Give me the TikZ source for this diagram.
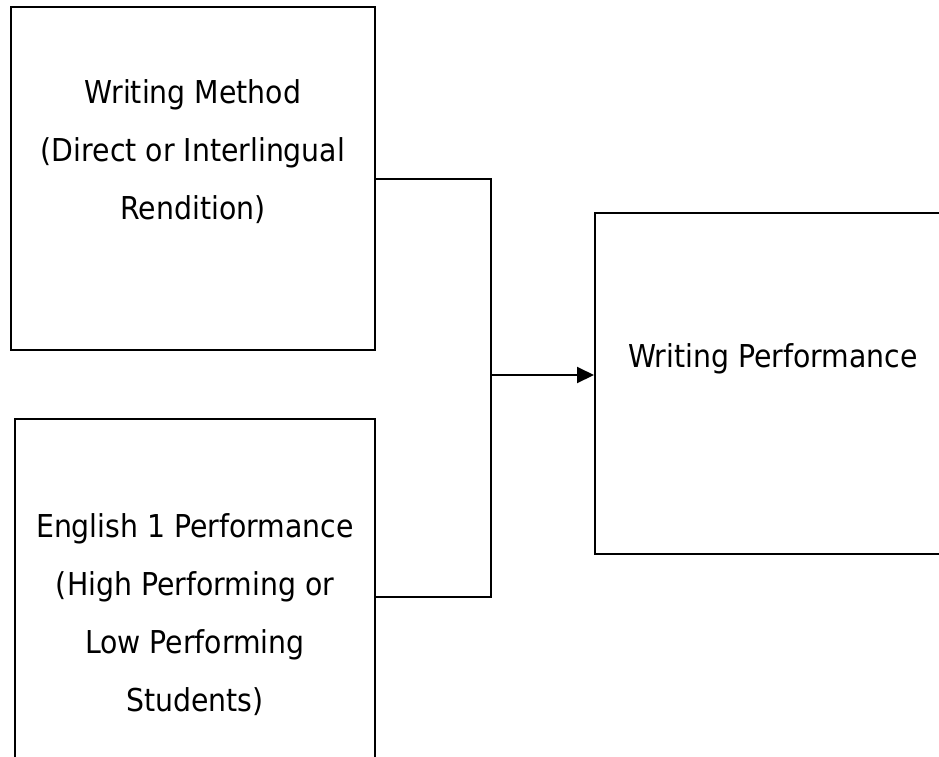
\documentclass[tikz,border=0pt]{standalone}
\usepackage{fontspec}
\setmainfont{DejaVu Sans Condensed}
\usetikzlibrary{arrows.meta}
\begin{document}
\begin{tikzpicture}[x=1pt,y=-1pt,
  box/.style={draw, line width=2pt, inner sep=0pt},
  txt/.style={align=center, font=\fontsize{31.5}{58}\selectfont, inner sep=0pt},
  conn/.style={line width=2pt}]
\useasboundingbox (0,0) rectangle (939,756);
\clip (0,0) rectangle (939,756);
\node[box, minimum width=364pt, minimum height=343pt] (wm) at (193,178.5) {};
\node[box, minimum width=360pt, minimum height=381pt] (em) at (195,609.5) {};
\node[box, minimum width=405pt, minimum height=341pt] (wp) at (797.5,383.5) {};
\node[txt] (wmt) at (193,152) {Writing Method\\(Direct or Interlingual\\Rendition)};
\node[txt] (emt) at (195,615) {English 1 Performance\\(High Performing or\\Low Performing\\Students)};
\node[txt] (wpt) at (773,358.5) {Writing Performance};
\coordinate (j) at (491,375);
\draw[conn] (wm.east) -| (j) |- (em.east |- 0,597);
\draw[conn,-{Triangle[length=17pt,width=16pt]}] (j) -- (wp.west |- j);
\end{tikzpicture}
\end{document}
